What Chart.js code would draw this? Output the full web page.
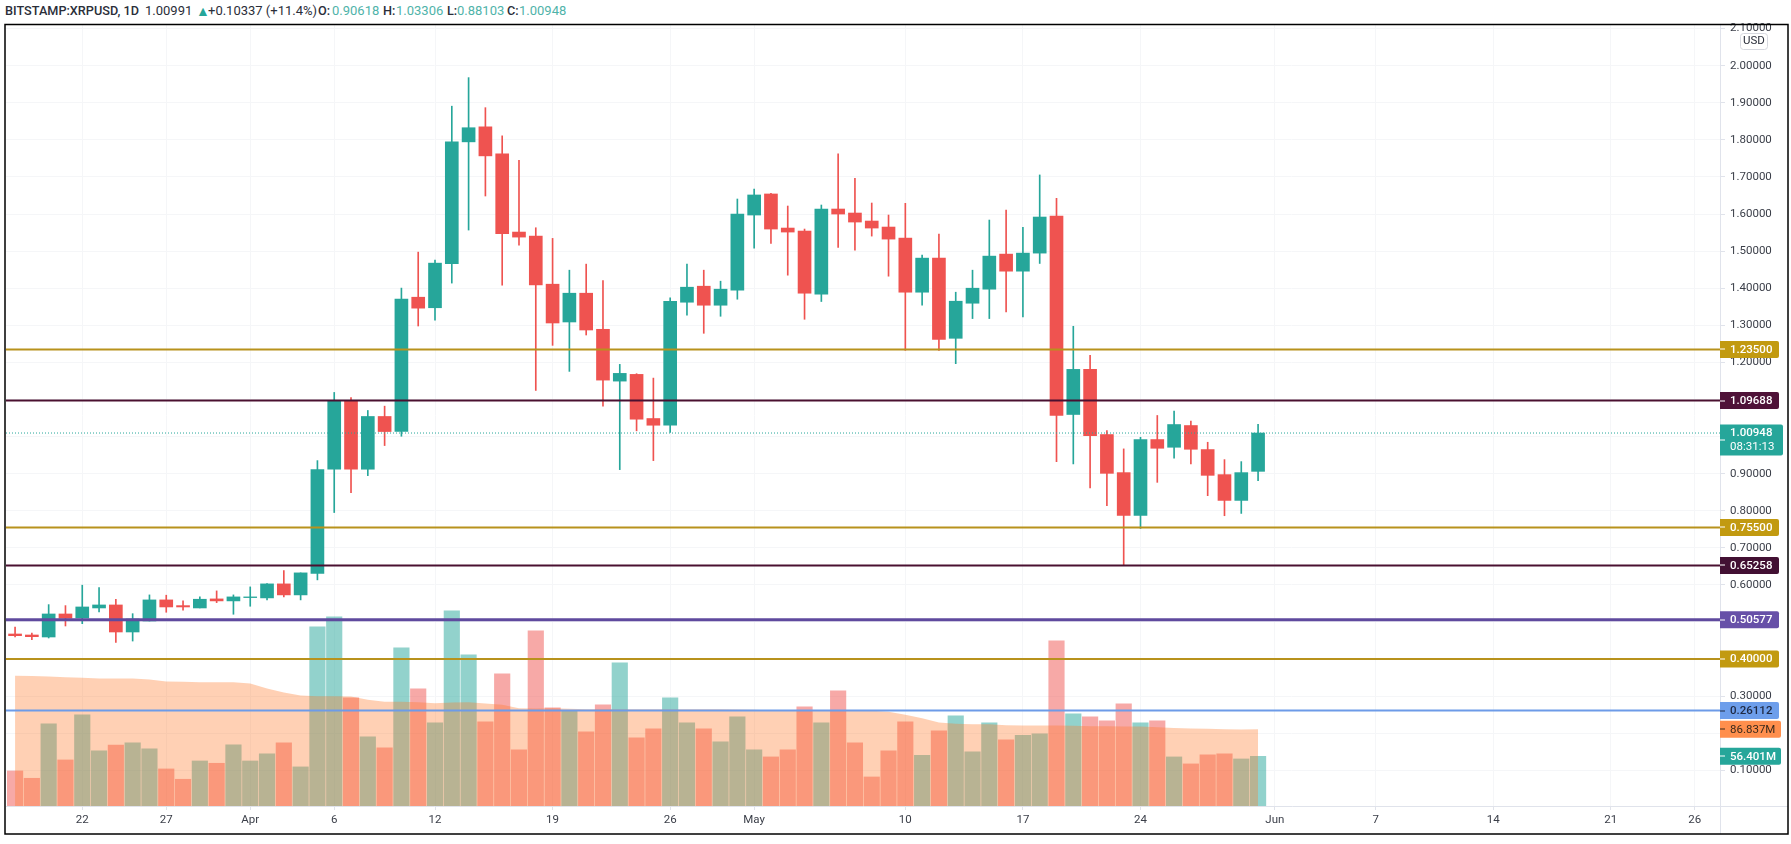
<!DOCTYPE html>
<html>
<head>
<meta charset="utf-8">
<title>XRPUSD</title>
<script src="https://cdn.jsdelivr.net/npm/chart.js@4/dist/chart.umd.min.js"></script>
<style>
html,body{margin:0;padding:0;background:#fff;overflow:hidden;}
#wrap{position:relative;width:1791px;height:844px;}
canvas{position:absolute;left:0;top:0;}
#head span{position:absolute;top:3px;font:13px Roboto,sans-serif;line-height:16px;color:#2a2e39;white-space:nowrap;}
#head .sym{font-weight:500;font-size:12.7px;}
#head .val{color:#4fb3a9;}
</style>
</head>
<body>
<div id="wrap">
<div id="head">
<span class="sym" style="left:5px">BITSTAMP:XRPUSD, 1D</span>
<span style="left:145px">1.00991</span>
<span style="left:196px;color:#26a69a;font-size:14px">▲</span>
<span style="left:208px">+0.10337 (+11.4%)</span>
<span class="sym" style="left:318px">O:</span><span class="val" style="left:332px">0.90618</span>
<span class="sym" style="left:383px">H:</span><span class="val" style="left:396px">1.03306</span>
<span class="sym" style="left:447px">L:</span><span class="val" style="left:457px">0.88103</span>
<span class="sym" style="left:507px">C:</span><span class="val" style="left:519px">1.00948</span>
</div>
<canvas id="chart" width="1791" height="844"></canvas>
</div>
<script>
// ==========================
// Data
// ==========================

// days since 18 March
const days=[0,1,2,3,4,5,6,7,8,9,10,11,12,13,14,15,16,17,18,19,20,21,22,23,24,25,26,27,28,29,30,31,32,33,34,35,36,37,38,39,40,41,42,43,44,45,46,47,48,49,50,51,52,53,54,55,56,57,58,59,60,61,62,63,64,65,66,67,68,69,70,71,72,73,74];

const opens=[.4676,.4649,.4595,.5216,.5108,.5378,.5459,.473,.5027,.5595,
.5441,.5378,.5622,.5568,.5658,.5649,.6027,.573,.6311,.9119,
1.0954,.9119,1.0541,1.0135,1.3757,1.3473,1.4659,1.7946,1.8351,1.7622,
1.5514,1.5405,1.4108,1.3089,1.3865,1.2892,1.1495,1.1676,1.0486,1.0305,
1.3622,1.4054,1.3541,1.3946,1.5973,1.6541,1.5622,1.5541,1.3838,1.6135,
1.6027,1.5811,1.5649,1.5351,1.3892,1.4811,1.2649,1.3595,1.3973,1.4919,
1.4459,1.4946,1.5946,1.0595,1.1811,1.0054,.9027,.7873,.9919,.9711,
1.0297,.9649,.8973,.8278,.90618];

const closes=[.463,.4603,.5216,.51,.5405,.5459,.473,.5081,.5595,.5405,
.5405,.5613,.5568,.5676,.5676,.6027,.573,.6324,.9111,1.0954,
.9119,1.0541,1.0135,1.3705,1.3462,1.4676,1.7946,1.8327,1.7568,1.5473,
1.5378,1.4089,1.3062,1.3865,1.2873,1.1522,1.1703,1.0468,1.0305,1.3649,
1.4027,1.3541,1.3973,1.6,1.6514,1.5595,1.5514,1.3865,1.6135,1.6,
1.5784,1.5622,1.5324,1.3892,1.4811,1.2622,1.3649,1.4,1.4865,1.4459,
1.4946,1.5919,1.0568,1.1811,1.0027,.9008,.7873,.9919,.9684,1.0324,
.9657,.8954,.8278,.9027,1.00948];

const highs=[.4865,.4703,.5468,.5441,.5992,.5927,.5613,.5224,.573,.5722,
.5568,.5676,.5838,.573,.5946,.6035,.6386,.6324,.9351,1.1189,
1.1054,1.0703,1.0819,1.4003,1.4973,1.4757,1.8908,1.9678,1.8868,1.8108,
1.7451,1.563,1.5343,1.4486,1.4649,1.4208,1.1946,1.1695,1.1576,1.3738,
1.4649,1.4486,1.4189,1.6405,1.6676,1.6559,1.6216,1.5595,1.6243,1.7622,
1.6965,1.6297,1.5973,1.6289,1.4892,1.5459,1.3892,1.4486,1.5838,1.6108,
1.5641,1.7054,1.6424,1.2973,1.2189,1.0162,.9667,.9981,1.0568,1.0684,
1.0414,.9846,.9378,.9324,1.03306];

const lows=[.4595,.4522,.4568,.4892,.4954,.527,.4451,.4486,.5027,.5262,
.5316,.5378,.5522,.5208,.5424,.5595,.5676,.5595,.6135,.7951,
.8486,.8946,.9757,1.0008,1.2981,1.3135,1.4138,1.5568,1.6486,1.4081,
1.5162,1.1243,1.2459,1.1757,1.2738,1.0819,.9108,1.0154,.9351,1.0108,
1.327,1.2784,1.3243,1.3703,1.5081,1.5208,1.4351,1.3162,1.3641,1.51,
1.5027,1.5405,1.4324,1.2324,1.3541,1.2324,1.1965,1.3181,1.3181,1.3359,
1.3224,1.4667,.9324,.9262,.8614,.8135,.65258,.7522,.8765,.9414,
.9262,.8405,.7865,.7927,.88103];

// millions
const volumes=[39.7,31.4,93,52.2,103.3,62.4,68.9,71.5,64.7,42,
30.3,51,48.4,69.2,51,59,71.5,44.3,203,214.5,
122.6,78.3,65.8,179.3,132.8,94.2,221.3,171.4,95.3,149.8,
63.6,198.6,111.2,107.8,84,114.6,162.3,77.2,87.4,122.6,
94.2,87.4,72.6,101,63.6,55.6,63.6,112.4,94.2,130.5,
71.5,32.9,62.4,95.3,57.5,85.1,102.2,61.3,94.2,74.9,
80.2,81.7,187.3,104.4,101,96.5,115.8,94.2,96.5,55.6,
47.7,57.9,59,53.3,56.401];

const volumeMA=[147.5,147.2,146.8,146,145.3,144.5,144.5,144.5,143.4,141.1,
140.7,140.3,140.3,140.3,138.8,133.2,128.6,125.2,124.5,124.5,
124.1,120.3,118,118,117.7,116.5,117.3,117.7,116.1,114.6,
110.8,110.5,110.8,110.1,109.7,109.7,109.7,109.7,109.7,109.7,
109.7,109.7,109.7,109.3,109,108.2,108.2,108.2,108.2,108.2,
108.6,107.8,106.7,103.3,99.5,94.6,93.1,92.7,92.7,91.5,
91.2,91.2,91.2,90.8,90.4,90.4,90,90,89.3,88.5,
87.8,87.4,87,86.6,86.837];

const dayTicks=[4,9,14,19,25,32,39,44,53,60,67,75,81,88,95,100];
const dayLabels=["22","27","Apr","6","12","19","26","May","10","17","24","Jun","7","14","21","26"];

const priceTicks=[2.1,2,1.9,1.8,1.7,1.6,1.5,1.4,1.3,1.2,1.1,1,.9,.8,.7,.6,.5,.4,.3,.2,.1];
const priceLabels=["2.10000","2.00000","1.90000","1.80000","1.70000","1.60000","1.50000","1.40000","1.30000","1.20000","","","0.90000","0.80000","0.70000","0.60000","","","0.30000","","0.10000"];

const levels=[1.235,1.09688,.755,.65258,.50577,.4,.26112];
const levelColors=["#b8921c","#4a1030","#b8921c","#4a1030","#5f4a9e","#b8921c","#6d9be8"];
const levelTagColors=["#c29a10","#4f1238","#c29a10","#421033","#6750a8","#c29a10","#6d9eeb"];
const levelTextColors=["#fff","#fff","#fff","#fff","#fff","#fff","#1f2a44"];
const levelWidths=[2,2,2,2,3,2,2];

const lastPrice=1.00948;
const countdown="08:31:13";

const green="#26a69a";
const red="#ef5350";

// ==========================
// Chart
// ==========================

const xMin=-.54, xMax=101.5;
const font="Roboto";
const upDown=days.map((d,i)=>closes[i]>=opens[i]?green:red);
const volColors=days.map((d,i)=>closes[i]>=opens[i]?"rgba(38,166,154,.5)":"rgba(239,83,80,.5)");

const levelSets=levels.map((v,i)=>({
type:"line",
data:[{x:xMin,y:v},{x:xMax,y:v}],
borderColor:levelColors[i],
borderWidth:levelWidths[i],
pointRadius:0,
order:1
}));

function tag(ctx,y,w,h,color,lines,textColor){
ctx.fillStyle=color;
ctx.beginPath();
ctx.roundRect(1720,y-h/2,w,h,[0,2,2,0]);
ctx.fill();
ctx.fillStyle=textColor;
ctx.fillRect(1720,Math.round(y)-.5,5,1);
ctx.textAlign="left";
ctx.textBaseline="middle";
lines.forEach(l=>{
ctx.font=l.font;
ctx.fillText(l.text,1730,l.y);
});
}

const panePlugin={
id:"pane",
afterDraw(chart){
const ctx=chart.ctx, yS=chart.scales.y, vS=chart.scales.yV;
ctx.save();

// extra axis lines under the time axis
ctx.strokeStyle="#e0e3eb";
ctx.lineWidth=1;
ctx.beginPath();
ctx.moveTo(1720.5,806);ctx.lineTo(1720.5,834);
ctx.moveTo(1720,806.5);ctx.lineTo(1788,806.5);
ctx.stroke();

// USD box
ctx.fillStyle="#fff";
ctx.strokeStyle="#d6d8df";
ctx.beginPath();
ctx.roundRect(1740.5,33.5,27,16,3);
ctx.fill();
ctx.stroke();
ctx.fillStyle="#2a2e39";
ctx.font="11.5px "+font;
ctx.textAlign="center";
ctx.textBaseline="middle";
ctx.fillText("USD",1754,41.5);

// price tags
levels.forEach((v,i)=>{
const y=yS.getPixelForValue(v);
tag(ctx,y,59,17,levelTagColors[i],[{text:v.toFixed(5),y:y+.5,font:"500 11.5px "+font}],levelTextColors[i]);
});
const ly=yS.getPixelForValue(lastPrice);
tag(ctx,ly+7,63,31,green,[
{text:lastPrice.toFixed(5),y:ly+.5,font:"500 11.5px "+font},
{text:countdown,y:ly+14,font:"11.5px "+font}
],"#fff");
const maLast=volumeMA[volumeMA.length-1], volLast=volumes[volumes.length-1];
tag(ctx,vS.getPixelForValue(maLast),61,17,"#ff8f4d",[{text:maLast.toFixed(3)+"M",y:vS.getPixelForValue(maLast)+.5,font:"11.5px "+font}],"#3a2a1c");
tag(ctx,vS.getPixelForValue(volLast),61,17,green,[{text:volLast.toFixed(3)+"M",y:vS.getPixelForValue(volLast)+.5,font:"500 11.5px "+font}],"#fff");

// black frame
ctx.strokeStyle="#000";
ctx.lineWidth=1.5;
ctx.strokeRect(5,24.5,1783,809.5);
ctx.restore();
}
};

new Chart(document.getElementById("chart"),{
data:{
datasets:[
...levelSets,
{
type:"line",
data:[{x:xMin,y:lastPrice},{x:xMax,y:lastPrice}],
borderColor:green,
borderWidth:1,
borderDash:[1,2],
pointRadius:0,
order:1
},
{
type:"bar",
data:days.map((d,i)=>({x:d,y:[opens[i],closes[i]]})),
backgroundColor:upDown,
barThickness:13,
grouped:false,
borderWidth:0,
order:2
},
{
type:"bar",
data:days.map((d,i)=>({x:d,y:[lows[i],highs[i]]})),
backgroundColor:upDown,
barThickness:1,
grouped:false,
borderWidth:0,
order:3
},
{
type:"line",
yAxisID:"yV",
data:days.map((d,i)=>({x:d,y:volumeMA[i]})),
borderWidth:0,
pointRadius:0,
backgroundColor:"rgba(255,120,40,.35)",
fill:"origin",
order:4
},
{
type:"bar",
yAxisID:"yV",
data:days.map((d,i)=>({x:d,y:volumes[i]})),
backgroundColor:volColors,
barThickness:15.5,
grouped:false,
borderWidth:0,
order:5
}
]
},
options:{
responsive:false,
animation:false,
devicePixelRatio:1,
layout:{padding:{left:6,top:25,right:0,bottom:0}},
plugins:{legend:{display:false},tooltip:{enabled:false}},
scales:{
x:{
type:"linear",
offset:false,
min:xMin,
max:xMax,
afterFit(s){s.height=38;},
afterBuildTicks(s){s.ticks=dayTicks.map(v=>({value:v}));},
grid:{color:"#f5f6f8",offset:false,tickColor:"#e0e3eb",tickLength:4},
border:{color:"#e0e3eb"},
ticks:{
autoSkip:false,
maxRotation:0,
padding:3,
color:"#3a3e48",
font:{family:font,size:11.5},
callback(v){return dayLabels[dayTicks.indexOf(v)];}
}
},
y:{
position:"right",
min:.0038,
max:2.1097,
afterFit(s){s.width=71;},
afterBuildTicks(s){s.ticks=priceTicks.map(v=>({value:v}));},
grid:{color:"#f5f6f8",tickColor:"#e0e3eb",tickLength:5},
border:{color:"#e0e3eb"},
ticks:{
autoSkip:false,
padding:5,
color:"#3a3e48",
font:{family:font,size:11.5},
callback(v){return priceLabels[priceTicks.indexOf(v)];}
}
},
yV:{
display:false,
min:0,
max:885
}
}
},
plugins:[panePlugin]
});
</script>
</body>
</html>
